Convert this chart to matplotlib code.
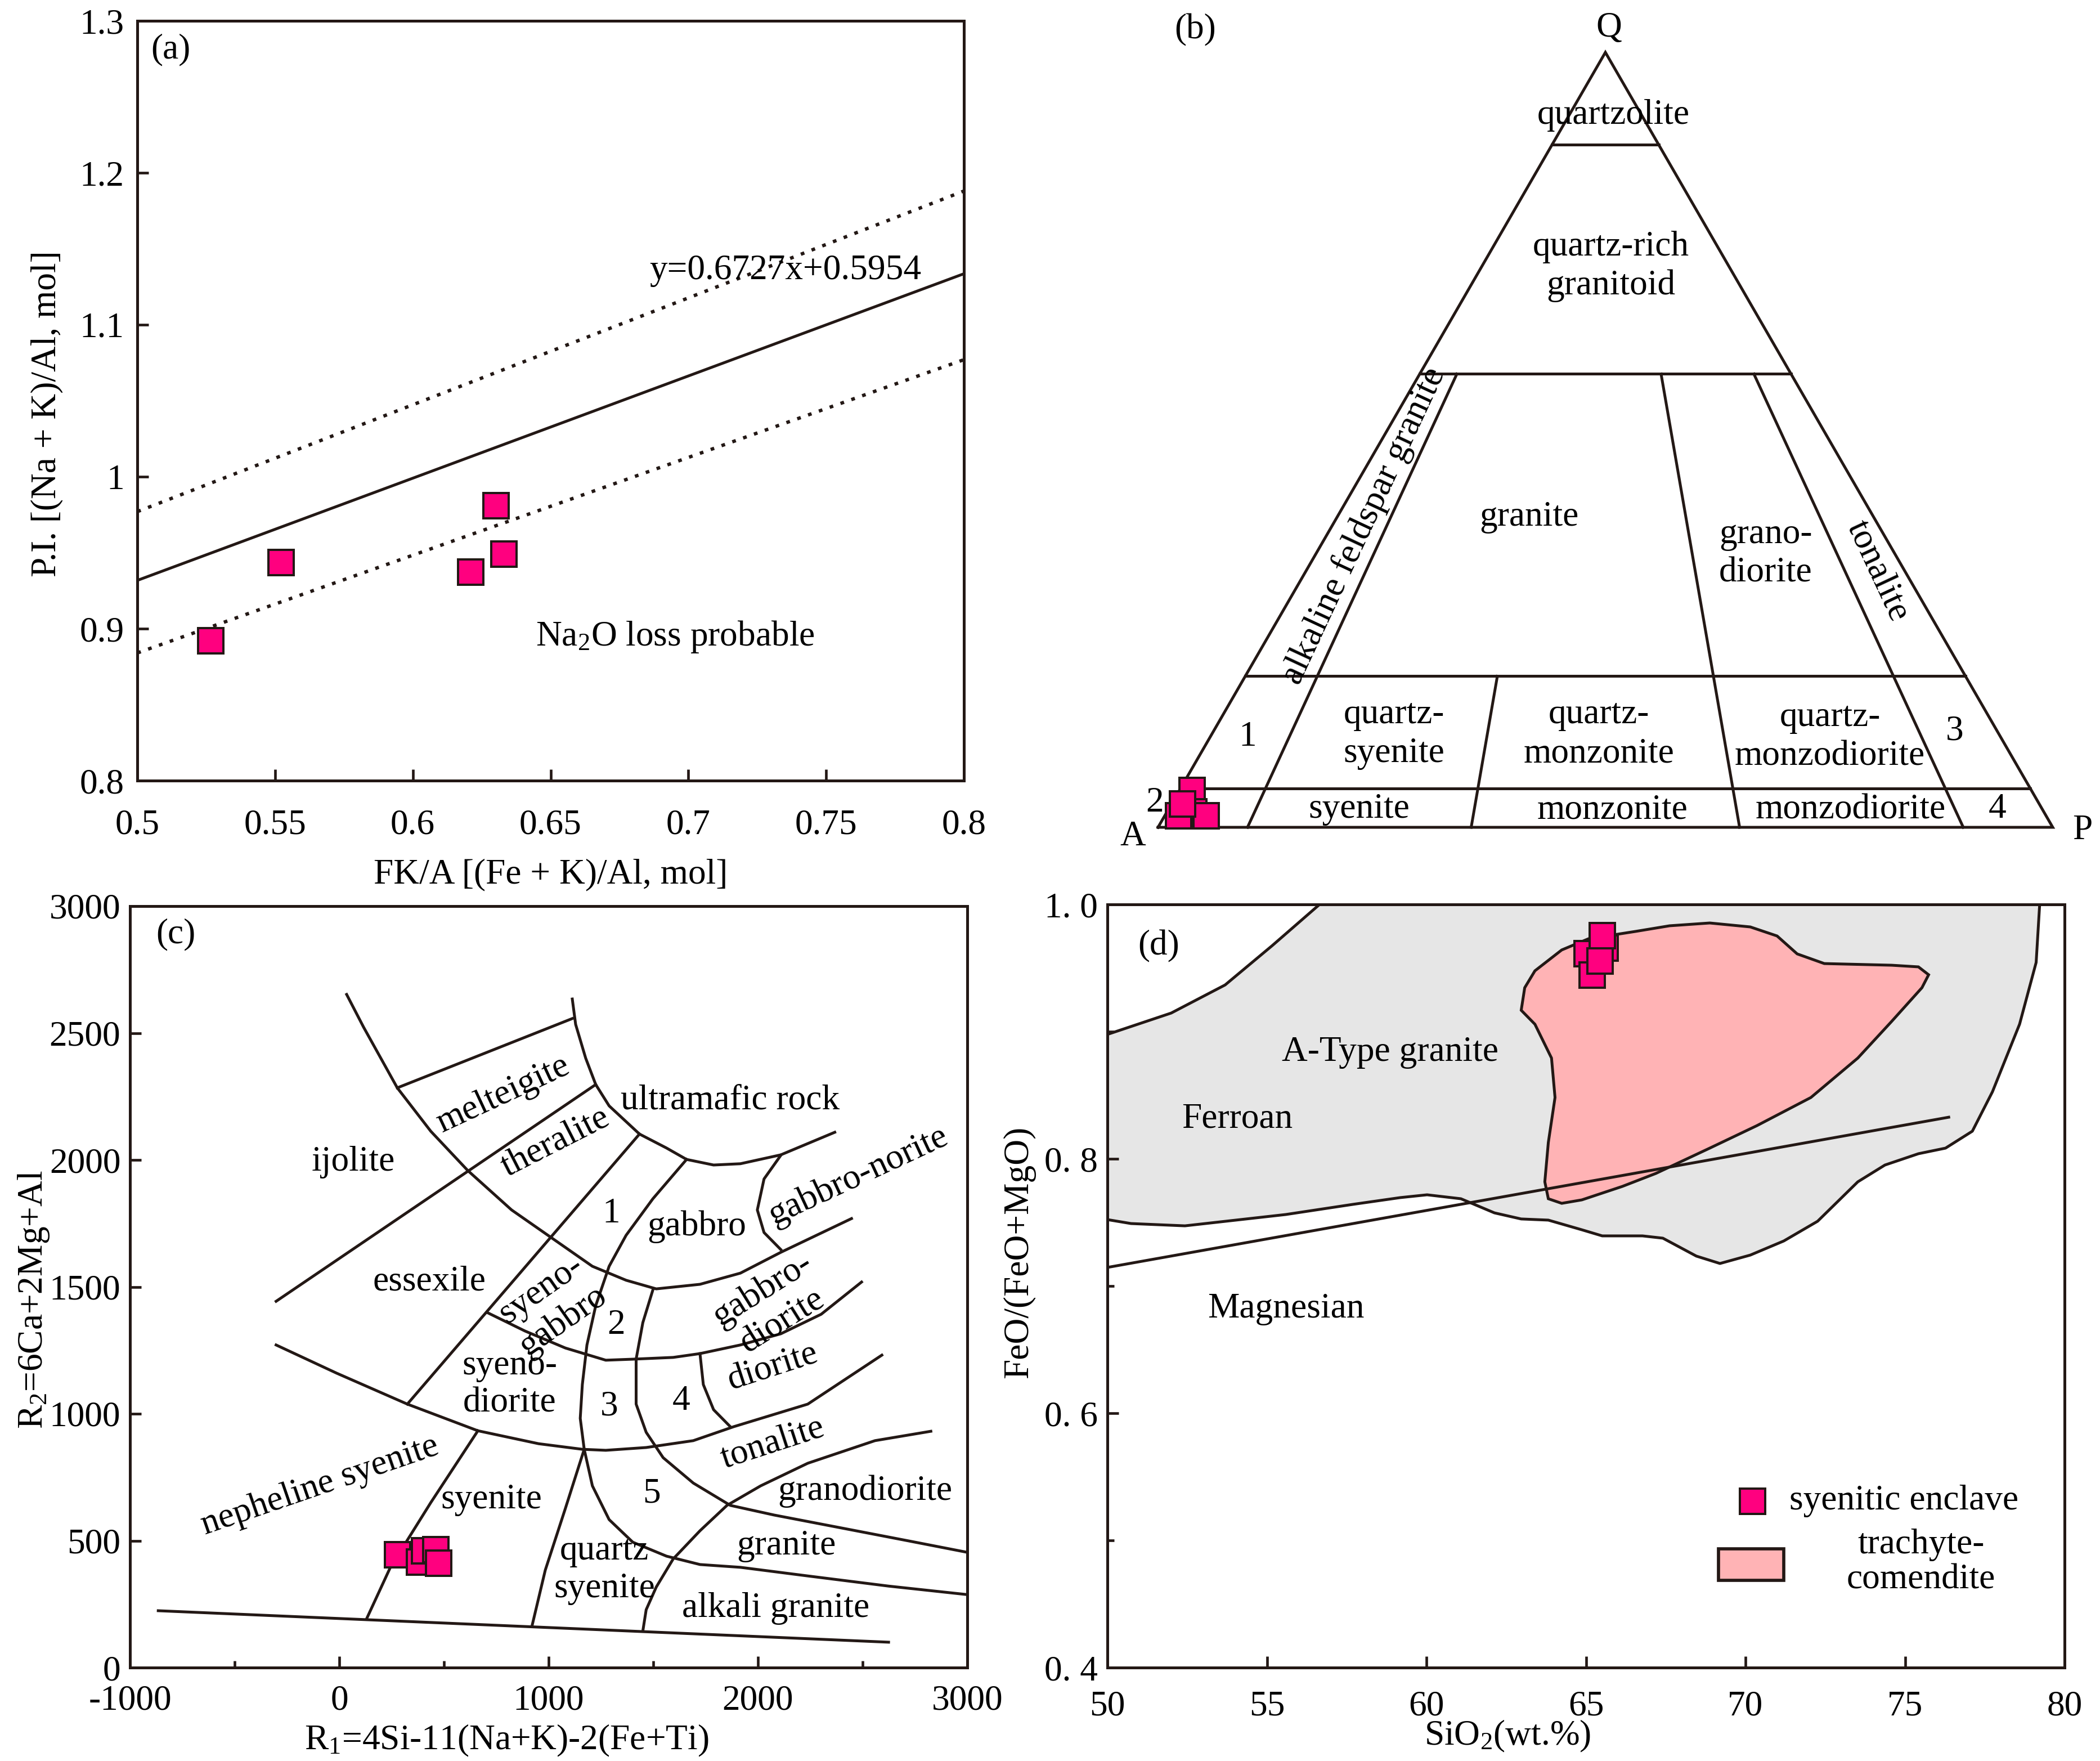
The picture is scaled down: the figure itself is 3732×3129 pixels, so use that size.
"""Four-panel geochemistry figure: P.I. vs FK/A, QAP triangle, R1-R2 diagram and
FeO/(FeO+MgO) vs SiO2 with the syenitic enclave samples."""
import numpy as np
import matplotlib
matplotlib.use("Agg")
import matplotlib.pyplot as plt
from matplotlib.patches import Polygon, Rectangle

plt.rcParams['font.family'] = ['Liberation Serif', 'DejaVu Serif']
plt.rcParams['mathtext.fontset'] = 'custom'
plt.rcParams['mathtext.rm'] = 'Liberation Serif'
plt.rcParams['mathtext.it'] = 'Liberation Serif:italic'
plt.rcParams['axes.unicode_minus'] = False
plt.rcParams['font.size'] = 19

INK = '#231815'
PINK = '#FF007F'
W, H, DPI = 3732, 3129, 240
LW = 1.5

# ---------------- (a) P.I. vs FK/A ----------------
FKA = [0.5265, 0.552, 0.621, 0.630, 0.633]
PI = [0.8922, 0.9437, 0.9374, 0.9811, 0.9493]
FIT_SLOPE, FIT_ICPT = 0.6727, 0.5954
UPPER_X, UPPER_Y = [0.5, 0.8], [0.977, 1.188]
LOWER_X, LOWER_Y = [0.5, 0.8], [0.884, 1.077]
A_XTICKS = [0.5, 0.55, 0.6, 0.65, 0.7, 0.75, 0.8]
A_XLABELS = ['0.5', '0.55', '0.6', '0.65', '0.7', '0.75', '0.8']
A_YTICKS = [0.8, 0.9, 1.0, 1.1, 1.2, 1.3]
A_YLABELS = ['0.8', '0.9', '1', '1.1', '1.2', '1.3']

# ---------------- (b) QAP ----------------
# sample modes as fractions of Q and P (A = remainder)
QAP_Q = [0.048, 0.0206, 0.015, 0.015, 0.0303]
QAP_P = [0.0135, 0.0291, 0.0151, 0.046, 0.0121]
# horizontal field boundaries as drawn (Q fraction)
Q_LEVELS = [0.881, 0.585, 0.195, 0.05]
# (P/(A+P), upper Q limit) for the radial field boundaries
RATIO_LINES = [(0.10, 0.585), (0.35, 0.195), (0.65, 0.585), (0.90, 0.585)]
QAP_LABELS = [
    ('quartzolite', 0.509, 0.7955, 0), ('quartz-rich\ngranitoid', 0.506, 0.6267, 0),
    ('alkaline feldspar granite', 0.230, 0.337, 65), ('granite', 0.415, 0.3464, 0),
    ('grano-\ndiorite', 0.679, 0.3055, 0), ('tonalite', 0.804, 0.2866, -65),
    ('1', 0.1004, 0.1008, 0), ('quartz-\nsyenite', 0.264, 0.1039, 0),
    ('quartz-\nmonzonite', 0.493, 0.1039, 0), ('quartz-\nmonzodiorite', 0.751, 0.1008, 0),
    ('3', 0.8906, 0.1071, 0), ('2', -0.0038, 0.0271, 0), ('syenite', 0.225, 0.0202, 0),
    ('monzonite', 0.508, 0.0189, 0), ('monzodiorite', 0.774, 0.0189, 0),
    ('4', 0.938, 0.0202, 0), ('Q', 0.504, 0.893, 0), ('A', -0.028, -0.011, 0),
    ('P', 1.033, -0.004, 0),
]

# ---------------- (c) R1-R2 ----------------
R1 = [276, 382, 406, 459, 472]
R2 = [446, 416, 461, 466, 413]
C_BASE = [(-865, 224), (2624, 100)]
C_OUTER = [(35, 2652), (116, 2523), (277, 2284), (437, 2113), (614, 1958), (823, 1803),
           (1016, 1692), (1209, 1581), (1370, 1526), (1514, 1492), (1723, 1510),
           (1916, 1554), (2109, 1636), (2447, 1769)]
C_ULTRA = [(1113, 2634), (1129, 2534), (1177, 2401), (1225, 2297), (1289, 2213),
           (1434, 2102), (1563, 2047), (1659, 2002), (1788, 1980), (1916, 1985),
           (2109, 2020), (2367, 2109)]
C_MELT = [(277, 2284), (1113, 2557)]
C_IJOL = [(-302, 1443), (1225, 2297)]
C_THER = [(1434, 2102), (325, 1038)]
C_SYGAB = [(711, 1397), (887, 1326), (1080, 1259), (1273, 1211), (1402, 1215),
           (1595, 1222), (1723, 1237), (1916, 1271), (2109, 1315), (2302, 1392),
           (2495, 1519)]
C_NEPH = [(-302, 1271), (-13, 1160), (325, 1038), (662, 933), (952, 882), (1161, 860),
          (1273, 856), (1466, 867), (1691, 894), (1884, 949), (2238, 1038), (2592, 1231)]
C_SYEN = [(662, 933), (437, 650), (244, 395), (132, 195)]
C_GAB = [(1659, 2002), (1498, 1847), (1370, 1703), (1289, 1581), (1225, 1426),
         (1183, 1271), (1161, 1115), (1151, 982), (1170, 860), (1209, 716), (1289, 583),
         (1402, 494), (1563, 439), (1723, 406), (1916, 395), (2238, 361), (2624, 321),
         (2994, 288)]
C_QSYEN = [(1170, 860), (1080, 627), (984, 384), (920, 162)]
C_DIOR = [(1498, 1488), (1450, 1359), (1418, 1215), (1418, 1038), (1466, 927),
          (1547, 827), (1691, 727), (1868, 639), (2077, 601), (2399, 550), (2720, 499),
          (2994, 455)]
C_ALKG = [(2826, 931), (2559, 894), (2238, 805), (2013, 716), (1852, 639), (1723, 539),
          (1595, 428), (1514, 317), (1466, 228), (1450, 144)]
C_FOUR = [(1723, 1237), (1739, 1115), (1788, 1016), (1868, 949)]
C_NORITE = [(2109, 2018), (2029, 1925), (1997, 1803), (2029, 1714), (2109, 1647)]
C_CURVES = [C_BASE, C_OUTER, C_ULTRA, C_MELT, C_IJOL, C_THER, C_SYGAB, C_NEPH, C_SYEN,
            C_GAB, C_QSYEN, C_DIOR, C_ALKG, C_FOUR, C_NORITE]
C_LABELS = [
    ('melteigite', 785, 2257, 25), ('ultramafic rock', 1868, 2235, 0),
    ('theralite', 1032, 2069, 27), ('ijolite', 68, 1991, 0),
    ('gabbro-norite', 2479, 1936, 25), ('1', 1299, 1787, 0), ('gabbro', 1707, 1736, 0),
    ('essexile', 431, 1519, 0), ('syeno-\ngabbro', 1016, 1426, 35),
    ('gabbro-\ndiorite', 2071, 1426, 32), ('2', 1322, 1348, 0),
    ('syeno-\ndiorite', 814, 1115, 0), ('3', 1289, 1027, 0), ('4', 1633, 1049, 0),
    ('diorite', 2071, 1182, 18), ('tonalite', 2071, 882, 18),
    ('nepheline syenite', -93, 716, 19), ('syenite', 727, 661, 0), ('5', 1492, 683, 0),
    ('granodiorite', 2511, 694, 0), ('granite', 2135, 479, 0),
    ('quartz\nsyenite', 1267, 384, 0), ('alkali granite', 2084, 233, 0),
]

# ---------------- (d) FeO/(FeO+MgO) vs SiO2 ----------------
SIO2 = [65.03, 65.19, 65.59, 65.43, 65.50]
FE_NUM = [0.9614, 0.9447, 0.966, 0.9556, 0.9758]
ATYPE_TOP = [(50, 0.8978), (52.0, 0.9146), (53.69, 0.9367), (55.17, 0.9677), (56.65, 1.0)]
ATYPE_RIGHT = [(79.22, 1.0), (79.11, 0.9544), (78.59, 0.9058), (77.74, 0.8527),
               (77.11, 0.8217), (76.27, 0.8084), (75.42, 0.804), (74.37, 0.7951),
               (73.52, 0.7819), (72.26, 0.7509), (71.2, 0.7354), (70.15, 0.7243),
               (69.2, 0.7177), (68.46, 0.7235), (67.41, 0.7376), (66.77, 0.7394),
               (65.51, 0.7394), (64.87, 0.7442), (63.82, 0.7518), (62.97, 0.7527),
               (62.13, 0.7575), (61.08, 0.7686), (60.02, 0.7717), (59.18, 0.7695),
               (57.7, 0.7642), (55.59, 0.7562), (52.43, 0.7473), (50.74, 0.7491),
               (50, 0.7522)]
TRACHYTE = [(62.97, 0.9168), (63.08, 0.9345), (63.4, 0.9478), (64.24, 0.9642),
            (65.08, 0.973), (66.56, 0.9788), (67.62, 0.9832), (68.88, 0.9854),
            (70.15, 0.9823), (70.99, 0.9752), (71.62, 0.9611), (72.47, 0.9535),
            (74.58, 0.9522), (75.42, 0.9509), (75.74, 0.9447), (75.53, 0.9345),
            (74.58, 0.908), (73.52, 0.8792), (72.05, 0.8482), (70.36, 0.8261),
            (68.88, 0.8084), (67.19, 0.7885), (66.14, 0.7783), (64.87, 0.7677),
            (64.24, 0.765), (63.82, 0.7686), (63.71, 0.7819), (63.82, 0.8128),
            (64.03, 0.8482), (63.92, 0.8792), (63.4, 0.9058)]
FERROAN_LINE = [(50, 0.7146), (76.37, 0.8327)]
D_YTICKS = [0.4, 0.6, 0.8, 1.0]
D_YLABELS = ['0. 4', '0. 6', '0. 8', '1. 0']


def px_axes(fig, left, top, right, bottom):
    return fig.add_axes([left / W, 1 - bottom / H, (right - left) / W, (bottom - top) / H])


def style(ax):
    for s in ax.spines.values():
        s.set_linewidth(1.5)
        s.set_color(INK)
    ax.tick_params(which='both', direction='in', width=1.4, color=INK)
    ax.tick_params(which='major', length=6)
    ax.tick_params(which='minor', length=3.5)


def squares(ax, xs, ys, **kw):
    ax.plot(xs, ys, ls='none', marker='s', ms=13.5, mfc=PINK, mec=INK, mew=1.2,
            zorder=5, **kw)


fig = plt.figure(figsize=(W / DPI, H / DPI), dpi=DPI)

# ---- (a)
ax = px_axes(fig, 244, 37, 1713, 1387)
style(ax)
fx = np.array([0.5, 0.8])
ax.plot(fx, FIT_SLOPE * fx + FIT_ICPT, color=INK, lw=LW)
ax.plot(UPPER_X, UPPER_Y, color=INK, lw=1.8, ls=(0, (1.1, 2.3)))
ax.plot(LOWER_X, LOWER_Y, color=INK, lw=1.8, ls=(0, (1.1, 2.3)))
for x, y in zip(FKA, PI):
    squares(ax, [x], [y])
ax.set_xlim(0.5, 0.8)
ax.set_ylim(0.8, 1.3)
ax.set_xticks(A_XTICKS, A_XLABELS)
ax.set_yticks(A_YTICKS, A_YLABELS)
ax.tick_params(axis='x', pad=15)
ax.tick_params(axis='y', pad=7)
ax.text(0.5049, 1.281, '(a)', ha='left', va='center')
ax.text(0.6858, 1.1356, 'y=0.6727x+0.5954', ha='left', va='center')
ax.text(0.6445, 0.8948, r'Na$\mathregular{_2}$O loss probable', ha='left', va='center')
ax.set_xlabel('FK/A [(Fe + K)/Al, mol]')
ax.xaxis.set_label_coords(0.5, -0.124)
ax.xaxis.label.set_va('center')
ax.set_ylabel('P.I. [(Na + K)/Al, mol]')
ax.yaxis.set_label_coords(-0.109, 0.483)
ax.yaxis.label.set_va('center')

# ---- (b) QAP triangle, unit base A(0,0)-P(1,0)
axb = px_axes(fig, 1950, 0, 3732, 1540)
axb.set_xlim((1950 - 2058) / 1590, (3732 - 2058) / 1590)
axb.set_ylim((1470 - 1540) / 1590, 1470 / 1590)
axb.axis('off')
S3 = np.sqrt(3) / 2


def tern(q, r):
    p = (1 - q) * r
    return p + q / 2, q * S3


axb.plot([0, 1, 0.5, 0], [0, 0, S3, 0], color=INK, lw=LW, solid_joinstyle='miter')
for q in Q_LEVELS:
    (x0, y0), (x1, y1) = tern(q, 0), tern(q, 1)
    axb.plot([x0, x1], [y0, y1], color=INK, lw=LW)
for r, qtop in RATIO_LINES:
    (x0, y0), (x1, y1) = tern(qtop, r), tern(0, r)
    axb.plot([x0, x1], [y0, y1], color=INK, lw=LW)
for txt, x, y, rot in QAP_LABELS:
    axb.text(x, y, txt, ha='center', va='center', rotation=rot, linespacing=1.25,
             rotation_mode='anchor')
axb.text(0.0415, 0.891, '(b)', ha='center', va='center')
for q, p in zip(QAP_Q, QAP_P):
    squares(axb, [p + q / 2], [q * S3])

# ---- (c) R1-R2
axc = px_axes(fig, 231, 1610, 1719, 2963)
style(axc)
for curve in C_CURVES:
    xs, ys = zip(*curve)
    axc.plot(xs, ys, color=INK, lw=LW)
for txt, x, y, rot in C_LABELS:
    axc.text(x, y, txt, ha='center', va='center', rotation=rot, linespacing=1.2,
             rotation_mode='anchor')
for x, y in zip(R1, R2):
    squares(axc, [x], [y])
axc.set_xlim(-1000, 3000)
axc.set_ylim(0, 3000)
axc.set_xticks([-1000, 0, 1000, 2000, 3000])
axc.set_xticks([-500, 500, 1500, 2500], minor=True)
axc.set_yticks([0, 500, 1000, 1500, 2000, 2500, 3000])
axc.tick_params(axis='x', pad=9)
axc.tick_params(axis='y', pad=5)
axc.text(-875, 2889, '(c)', ha='left', va='center')
axc.set_xlabel(r'R$\mathregular{_1}$=4Si-11(Na+K)-2(Fe+Ti)')
axc.xaxis.set_label_coords(0.45, -0.096)
axc.xaxis.label.set_va('center')
axc.set_ylabel(r'R$\mathregular{_2}$=6Ca+2Mg+Al')
axc.yaxis.set_label_coords(-0.115, 0.483)
axc.yaxis.label.set_va('center')

# ---- (d) FeO/(FeO+MgO) vs SiO2
axd = px_axes(fig, 1968, 1607, 3669, 2963)
style(axd)
gray = ATYPE_TOP + ATYPE_RIGHT
axd.add_patch(Polygon(gray, closed=True, facecolor='#E6E6E6', edgecolor='none', zorder=1))
for part in (ATYPE_TOP, ATYPE_RIGHT):
    xs, ys = zip(*part)
    axd.plot(xs, ys, color=INK, lw=LW, zorder=2)
axd.add_patch(Polygon(TRACHYTE, closed=True, facecolor='#FFB3B5', edgecolor=INK,
                      lw=LW, zorder=3))
xs, ys = zip(*FERROAN_LINE)
axd.plot(xs, ys, color=INK, lw=LW, zorder=4)
for x, y in zip(SIO2, FE_NUM):
    squares(axd, [x], [y])
axd.set_xlim(50, 80)
axd.set_ylim(0.4, 1.0)
axd.set_xticks([50, 55, 60, 65, 70, 75, 80])
axd.set_yticks(D_YTICKS, D_YLABELS)
axd.set_yticks([0.5, 0.7, 0.9], minor=True)
axd.tick_params(axis='x', pad=12)
axd.tick_params(axis='y', pad=5)
axd.text(51.6, 0.967, '(d)', ha='center', va='center')
axd.text(58.86, 0.8836, 'A-Type granite', ha='center', va='center')
axd.text(54.07, 0.831, 'Ferroan', ha='center', va='center')
axd.text(55.59, 0.682, 'Magnesian', ha='center', va='center')
# legend drawn in axes fraction
axd.plot([0.674], [0.218], transform=axd.transAxes, ls='none', marker='s', ms=13.5,
         mfc=PINK, mec=INK, mew=1.2, clip_on=False)
axd.text(0.7125, 0.218, 'syenitic enclave', transform=axd.transAxes, ha='left', va='center')
axd.add_patch(Rectangle((0.6385, 0.1143), 0.0681, 0.0413, transform=axd.transAxes,
                        facecolor='#FFB3B5', edgecolor=INK, lw=1.7))
axd.text(0.850, 0.138, 'trachyte-\ncomendite', transform=axd.transAxes, ha='center',
         va='center', linespacing=1.1)
axd.set_xlabel(r'SiO$\mathregular{_2}$(wt.%)')
axd.xaxis.set_label_coords(0.418, -0.09)
axd.xaxis.label.set_va('center')
axd.set_ylabel('FeO/(FeO+MgO)')
axd.yaxis.set_label_coords(-0.092, 0.544)
axd.yaxis.label.set_va('center')

fig.savefig('out.png', dpi=DPI)
